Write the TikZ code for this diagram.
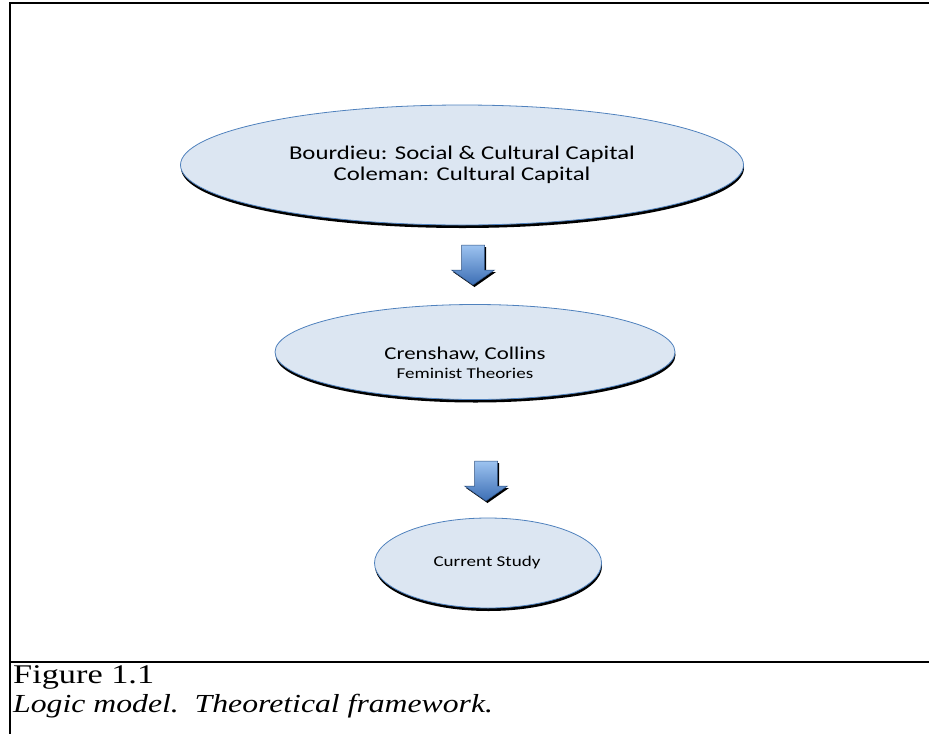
\documentclass[tikz,border=0pt]{standalone}
\usepackage{fontspec}
\usepackage{graphicx}
\setmainfont{Liberation Serif}
\newfontfamily\calibri{Carlito}
\usetikzlibrary{shapes.geometric,shadows}

\definecolor{ellfill}{HTML}{DCE6F2}
\definecolor{ellblue}{HTML}{4F81BD}
\definecolor{arrtop}{HTML}{9DC3F0}
\definecolor{arrbot}{HTML}{3C6EB4}

% stretch text sideways like the original
\newcommand\wide[2][1.27]{\scalebox{#1}[1]{#2}}

\tikzset{
	theory/.style={ellipse, draw=ellblue, fill=ellfill, line width=0.8pt, inner sep=0pt,
		drop shadow={shadow xshift=0.5pt, shadow yshift=-3pt, opacity=1, fill=black}},
	bigtxt/.style={font=\calibri\fontsize{18}{21}\selectfont, align=center, inner sep=0pt},
	smalltxt/.style={font=\calibri\fontsize{15}{18}\selectfont, align=center, inner sep=0pt},
	captxt/.style={font=\fontsize{27}{29}\selectfont, anchor=base west, inner sep=0pt},
	pics/downarrow/.style={code={
		\fill[black] (-10,2) -- (13,2) -- (13,27) -- (23,27) -- (1.5,42) -- (-20,27) -- (-10,27) -- cycle;
		\shade[top color=arrtop, bottom color=arrbot, draw=arrbot!70!black, line width=0.5pt]
			(-11.5,0) -- (11.5,0) -- (11.5,25) -- (21.5,25) -- (0,40) -- (-21.5,25) -- (-11.5,25) -- cycle;
	}}
}

\begin{document}
\begin{tikzpicture}[x=1pt, y=-1pt]
	\useasboundingbox (0,0) rectangle (929,734);

	% frame
	\draw[line width=2.5pt] (929,3) -- (10,3) -- (10,734);
	\draw[line width=2.5pt] (10,662) -- (929,662);

	% ellipses
	\node[theory, minimum width=563pt, minimum height=120pt] (bourdieu) at (462,165) {};
	\node[theory, minimum width=400pt, minimum height=95pt] (crenshaw) at (475,352) {};
	\node[theory, minimum width=227pt, minimum height=90pt] (study) at (488,563) {};

	\node[bigtxt, font=\calibri\fontsize{19.5}{21}\selectfont] (bourdieutxt) at (bourdieu) {\wide{Bourdieu: Social \& Cultural Capital}\\ \wide{Coleman: Cultural Capital}};
	\node[bigtxt, anchor=base] (crenshawtxt) at (465,359) {\wide{Crenshaw, Collins}};
	\node[smalltxt, anchor=base] (feministtxt) at (465,378) {\wide{Feminist Theories}};
	\node[smalltxt, anchor=base] (studytxt) at (487,566) {\wide{Current Study}};

	% arrows
	\pic at (473,245) {downarrow};
	\pic at (486,461) {downarrow};

	% caption
	\node[captxt] (figno) at (13,683) {\wide{Figure 1.1}};
	\node[captxt, font=\fontsize{26}{29}\selectfont] (figtitle) at (13,712) {\wide[1.22]{\itshape Logic model.\ \ Theoretical framework.}};
\end{tikzpicture}
\end{document}
